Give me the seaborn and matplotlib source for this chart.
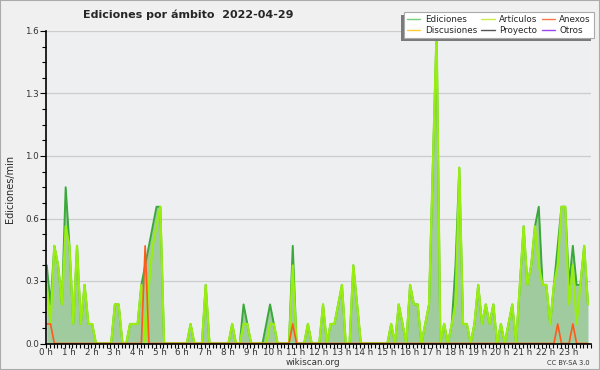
import numpy as np
import pandas as pd
import matplotlib
matplotlib.use("Agg")
import matplotlib.pyplot as plt
import seaborn as sns
from matplotlib.lines import Line2D
from matplotlib.patches import Rectangle
from matplotlib.ticker import MultipleLocator

# ediciones por minuto, intervalos de 10 min (6 por hora, 24 h)
ediciones = [
    .4, .2, .5, .4, .2, .8,   .5, .1, .5, .1, .3, .1,   .1, 0, 0, 0, 0, 0,
    .2, .2, 0, 0, .1, .1,     .1, .3, .4, .5, .6, .7,   .7, 0, 0, 0, 0, 0,
    0, 0, .1, 0, 0, 0,        .3, 0, 0, 0, 0, 0,        0, .1, 0, 0, .2, .1,
    0, 0, 0, 0, .1, .2,       .1, 0, 0, 0, 0, .5,       0, 0, 0, .1, 0, 0,
    0, .2, 0, .1, .1, .2,     .3, 0, 0, .4, .2, 0,      0, 0, 0, 0, 0, 0,
    0, .1, 0, .2, .1, 0,      .3, .2, .2, 0, .1, .2,    .9, 1.6, 0, .1, 0, .1,
    .4, .9, .1, .1, 0, .1,    .3, .1, .2, .1, .2, 0,    .1, 0, .1, .2, 0, .3,
    .6, .3, .4, .6, .7, .3,   .3, .1, .3, .5, .7, .7,   .3, .5, .3, .3, .5, .2,
]
articulos = [
    .3, .1, .5, .4, .2, .6,   .5, .1, .5, .1, .3, .1,   .1, 0, 0, 0, 0, 0,
    .2, .2, 0, 0, .1, .1,     .1, .3, 0, .3, .5, .6,    .7, 0, 0, 0, 0, 0,
    0, 0, .1, 0, 0, 0,        .3, 0, 0, 0, 0, 0,        0, .1, 0, 0, .1, .1,
    0, 0, 0, 0, 0, .1,        .1, 0, 0, 0, 0, .4,       0, 0, 0, .1, 0, 0,
    0, .2, 0, .1, .1, .2,     .3, 0, 0, .4, .2, 0,      0, 0, 0, 0, 0, 0,
    0, .1, 0, .2, .1, 0,      .3, .2, .2, 0, .1, .2,    .9, 1.6, 0, .1, 0, .1,
    .2, .9, .1, .1, 0, .1,    .3, .1, .2, .1, .2, 0,    .1, 0, .1, .2, 0, .3,
    .6, .3, .4, .6, .4, .3,   .3, .1, .3, .4, .7, .7,   .2, .4, .1, .3, .5, .2,
]
anexos = [0] * 144
for i, v in [(0, .1), (1, .1), (26, .5), (65, .1), (135, .1), (139, .1)]:
    anexos[i] = v

horas = [f"{h} h" for h in range(24)]
leyenda = ["Ediciones", "Discusiones", "Artículos", "Proyecto", "Anexos", "Otros"]
colores_leyenda = ["#77cc77", "#ffcc33", "#ccee44", "#555555", "#ff7744", "#9944ee"]

df = pd.DataFrame({
    "hora": (np.arange(144) + 0.2) / 6,
    "Ediciones": ediciones,
    "Artículos": articulos,
    "Anexos": anexos,
})

sns.set_style("white", {"axes.facecolor": "#eeeff1"})
plt.rcParams["font.family"] = ["DejaVu Sans"]

fig = plt.figure(figsize=(6, 3.7), dpi=100, facecolor="#f0f0f0")
ax = fig.add_axes([46 / 600, 1 - 343.5 / 370, 545 / 600, 312.5 / 370])

# relleno bajo el total y lineas por ambito
ax.fill_between(df["hora"], df["Ediciones"], color="#9fcb9f", lw=0, zorder=1)
sns.lineplot(data=df, x="hora", y="Ediciones", color="#3aa83a", lw=1.4, ax=ax, zorder=2)
sns.lineplot(data=df, x="hora", y="Artículos", color="#99ee11", lw=1.6, ax=ax, zorder=2)
sns.lineplot(data=df, x="hora", y="Anexos", color="#ff5a1a", lw=1.2, ax=ax, zorder=2)

ax.set_xlim(0, 24)
ax.set_ylim(0, 1.6)
ax.set_xticks(range(24))
ax.set_xticklabels(horas)
ax.xaxis.set_minor_locator(MultipleLocator(1 / 6))
yt = np.linspace(0, 1.6, 6)
ax.set_yticks(yt)
ax.set_yticklabels([f"{v:.1f}" for v in yt])
ax.yaxis.set_minor_locator(MultipleLocator(0.08))
ax.tick_params(which="major", direction="out", length=3, width=0.8, color="black",
               labelsize=6.3, labelcolor="#333333", pad=0.5)
ax.tick_params(which="minor", direction="out", length=3, width=0.8, color="black")
ax.tick_params(axis="x", which="both", bottom=True)
ax.tick_params(axis="y", which="both", left=True)
ax.tick_params(axis="y", which="major", length=4, pad=1)
ax.yaxis.grid(True, color="#cccccc", lw=0.9)
ax.set_axisbelow(True)
ax.set_xlabel("")
ax.set_ylabel("")
for s in ["top", "right"]:
    ax.spines[s].set_visible(False)
for s in ["left", "bottom"]:
    ax.spines[s].set_color("black")
    ax.spines[s].set_linewidth(1.2)
    ax.spines[s].set_zorder(3)


def px(x, y):
    # pixeles (desde arriba a la izquierda) a fraccion de figura
    return x / 600, 1 - y / 370


# caja de la leyenda con sombra abajo a la izquierda
fig.patches.append(Rectangle(px(401, 41), 190 / 600, 26 / 370, transform=fig.transFigure,
                             fc="#7a7a7a", ec="none", zorder=4))
fig.patches.append(Rectangle(px(404, 38), 190 / 600, 26 / 370, transform=fig.transFigure,
                             fc="white", ec="#aaaaaa", lw=0.8, zorder=4.5))
handles = [Line2D([], [], color=c, lw=1) for c in colores_leyenda]
leg = fig.legend(handles, leyenda, loc="center", bbox_to_anchor=px(499, 25),
                 ncol=3, fontsize=6.3, frameon=False, handlelength=1.5, handletextpad=0.5,
                 columnspacing=0.5, labelspacing=0.15, borderpad=0, borderaxespad=0)
leg.set_zorder(5)

fig.text(*px(188, 15), "Ediciones por ámbito  2022-04-29", ha="center", va="center",
         fontsize=8, fontweight="bold")
fig.text(*px(10, 189), "Ediciones/min", rotation=90, ha="center", va="center", fontsize=7)
fig.text(*px(313, 362.5), "wikiscan.org", ha="center", va="center", fontsize=6.3,
         color="#333333")
fig.text(*px(590, 363), "CC BY-SA 3.0", ha="right", va="center", fontsize=4.8,
         color="#333333")
fig.patches.append(Rectangle((0, 0), 1, 1, transform=fig.transFigure, fill=False,
                             ec="#aaaaaa", lw=1.5))

fig.savefig("out.png", dpi=100, facecolor=fig.get_facecolor())
